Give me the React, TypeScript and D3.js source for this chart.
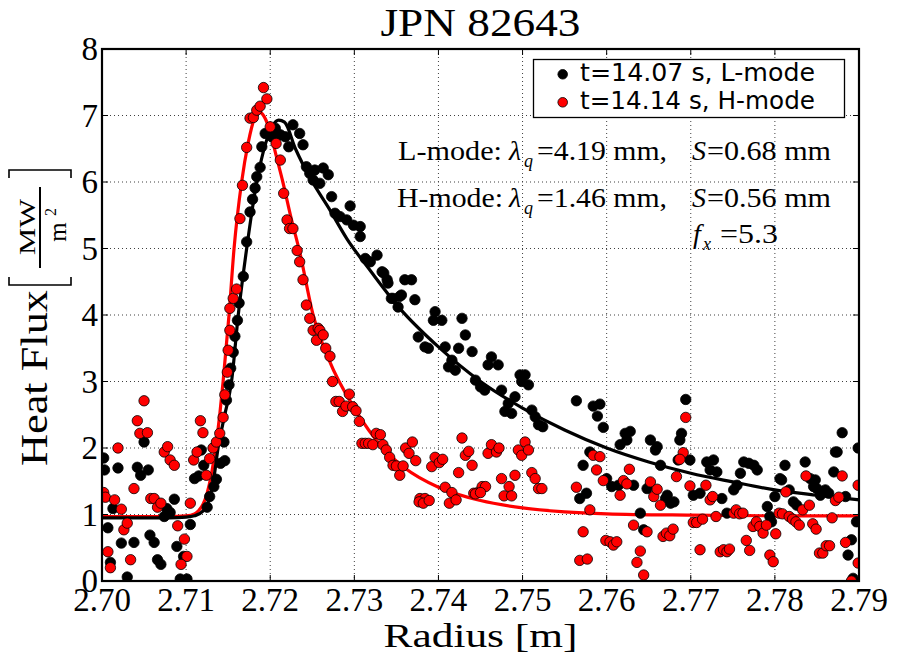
import React from 'react';
import * as d3 from 'd3';

const xTickValues = [2.70, 2.71, 2.72, 2.73, 2.74, 2.75, 2.76, 2.77, 2.78, 2.79];
const yTickValues = [0, 1, 2, 3, 4, 5, 6, 7, 8];

const legendLabels = ['t=14.07 s, L-mode', 't=14.14 s, H-mode'];

// L-mode measured heat flux [radius m, MW/m^2]
const lModePoints: [number, number][] = [
[2.7002,1.85],[2.7003,1.67],[2.7019,1.70],[2.7007,0.80],[2.7013,1.09],[2.7023,0.57],[2.7010,0.28],[2.7030,0.06],[2.7038,0.58],[2.7042,1.71],[2.7046,1.59],[2.7050,2.09],[2.7055,1.67],[2.7057,0.69],[2.7062,0.58],[2.7066,0.32],[2.7070,0.25],[2.7074,0.97],[2.7077,1.09],[2.7081,1.03],[2.7086,1.23],[2.7089,0.52],[2.7093,0.03],[2.7101,0.03],[2.7105,0.85],[2.7097,0.37],[2.7110,1.54],[2.7115,1.58],[2.7118,1.97],[2.7121,1.74],[2.7125,1.11],[2.7128,1.27],[2.7133,1.42],[2.7136,1.53],[2.7141,1.77],[2.7146,1.81],[2.7145,2.09],[2.7148,2.72],[2.7151,2.95],[2.7153,3.20],[2.7156,3.44],[2.7158,3.68],[2.7161,3.92],[2.7163,4.18],[2.7168,4.58],[2.7172,5.10],[2.7176,5.55],[2.7179,5.74],[2.7182,5.91],[2.7184,6.08],[2.7188,6.22],[2.7190,6.53],[2.7194,6.73],[2.7202,6.68],[2.7206,6.81],[2.7212,6.71],[2.7218,6.68],[2.7222,6.53],[2.7227,6.86],[2.7235,6.73],[2.7239,6.56],[2.7243,6.23],[2.7247,6.13],[2.7253,6.18],[2.7263,6.21],[2.7251,6.03],[2.7259,5.98],[2.7269,6.11],[2.7273,5.78],[2.7277,5.53],[2.7295,5.64],[2.7283,5.48],[2.7291,5.43],[2.7299,5.35],[2.7307,5.18],[2.7313,4.85],[2.7319,4.80],[2.7327,4.90],[2.7333,4.65],[2.7339,4.53],[2.7346,4.25],[2.7352,4.12],[2.7307,5.33],[2.7360,4.53],[2.7368,4.53],[2.7356,4.30],[2.7335,4.63],[2.7340,4.48],[2.7344,4.25],[2.7354,4.28],[2.7372,4.23],[2.7396,4.05],[2.7394,3.92],[2.7404,3.92],[2.7428,3.95],[2.7376,3.67],[2.7384,3.52],[2.7388,3.50],[2.7408,3.52],[2.7424,3.50],[2.7432,3.70],[2.7440,3.45],[2.7416,3.32],[2.7412,3.22],[2.7420,3.17],[2.7463,3.37],[2.7459,3.25],[2.7471,3.25],[2.7444,3.02],[2.7450,2.92],[2.7455,2.87],[2.7475,2.87],[2.7497,3.10],[2.7503,3.10],[2.7499,3.00],[2.7507,2.95],[2.7491,2.77],[2.7483,2.67],[2.7479,2.55],[2.7487,2.52],[2.7511,2.57],[2.7515,2.47],[2.7519,2.35],[2.7524,2.32],[2.7564,2.71],[2.7584,2.63],[2.7592,2.66],[2.7589,2.48],[2.7596,2.31],[2.7572,1.74],[2.7580,1.94],[2.7568,1.24],[2.7576,1.32],[2.7600,1.54],[2.7606,1.42],[2.7614,1.44],[2.7616,2.05],[2.7622,2.22],[2.7628,2.25],[2.7624,2.12],[2.7632,1.44],[2.7640,1.02],[2.7644,0.77],[2.7652,2.12],[2.7658,1.97],[2.7660,2.02],[2.7664,1.74],[2.7648,1.39],[2.7670,1.24],[2.7676,1.17],[2.7680,1.19],[2.7672,1.29],[2.7687,2.12],[2.7689,2.22],[2.7694,2.73],[2.7685,1.82],[2.7699,1.82],[2.7703,1.29],[2.7711,1.32],[2.7719,1.79],[2.7727,1.82],[2.7723,1.67],[2.7731,1.64],[2.7737,1.24],[2.7743,1.02],[2.7751,1.37],[2.7755,1.44],[2.7759,1.62],[2.7763,1.79],[2.7769,1.77],[2.7775,1.74],[2.7779,1.67],[2.7791,1.12],[2.7794,0.97],[2.7796,0.89],[2.7800,1.27],[2.7806,1.54],[2.7808,1.52],[2.7812,1.74],[2.7817,1.37],[2.7822,1.19],[2.7826,1.14],[2.7836,1.79],[2.7842,1.54],[2.7848,1.52],[2.7846,1.42],[2.7850,1.39],[2.7854,1.29],[2.7860,1.37],[2.7864,1.32],[2.7870,1.64],[2.7872,1.94],[2.7874,1.94],[2.7880,2.23],[2.7884,1.27],[2.7887,0.39],[2.7891,0.62],[2.7897,0.89],[2.7899,2.00],[2.7893,0.04]
];

// H-mode measured heat flux [radius m, MW/m^2]
const hModePoints: [number, number][] = [
[2.7002,1.33],[2.7004,1.26],[2.7015,1.22],[2.7023,1.08],[2.7019,2.00],[2.7007,0.44],[2.7010,0.20],[2.7026,0.77],[2.7030,0.87],[2.7034,0.32],[2.7038,1.39],[2.7042,2.41],[2.7045,2.22],[2.7050,2.71],[2.7054,2.23],[2.7058,1.24],[2.7062,1.24],[2.7066,1.11],[2.7070,1.17],[2.7074,1.94],[2.7078,2.02],[2.7081,1.82],[2.7086,1.74],[2.7090,0.83],[2.7098,0.63],[2.7101,0.37],[2.7094,0.25],[2.7105,1.17],[2.7109,1.82],[2.7113,1.94],[2.7117,2.41],[2.7120,2.23],[2.7124,1.59],[2.7128,1.84],[2.7132,2.00],[2.7136,2.09],[2.7140,2.22],[2.7144,2.46],[2.7146,2.80],[2.7149,3.14],[2.7150,3.47],[2.7152,3.77],[2.7152,4.10],[2.7156,4.25],[2.7160,4.39],[2.7164,5.45],[2.7167,5.95],[2.7172,6.52],[2.7176,6.96],[2.7180,6.97],[2.7184,7.08],[2.7188,7.14],[2.7192,7.42],[2.7196,7.25],[2.7200,6.83],[2.7207,6.58],[2.7212,6.33],[2.7216,5.83],[2.7220,5.43],[2.7223,5.30],[2.7227,5.30],[2.7232,4.97],[2.7235,4.80],[2.7239,4.53],[2.7243,4.15],[2.7247,3.95],[2.7251,3.77],[2.7257,3.80],[2.7255,3.62],[2.7259,3.77],[2.7263,3.70],[2.7266,3.50],[2.7271,3.38],[2.7274,3.00],[2.7278,2.70],[2.7282,2.70],[2.7286,2.55],[2.7290,2.63],[2.7294,2.81],[2.7298,2.62],[2.7302,2.56],[2.7306,2.40],[2.7309,2.07],[2.7313,2.07],[2.7317,2.07],[2.7322,2.05],[2.7326,2.22],[2.7331,2.20],[2.7334,2.05],[2.7338,1.97],[2.7342,1.86],[2.7346,1.74],[2.7350,1.73],[2.7354,1.59],[2.7358,1.73],[2.7361,2.00],[2.7365,1.92],[2.7369,2.09],[2.7373,1.81],[2.7378,1.24],[2.7384,1.24],[2.7392,1.72],[2.7396,1.86],[2.7401,1.78],[2.7405,1.83],[2.7408,1.41],[2.7416,1.33],[2.7424,1.63],[2.7428,2.15],[2.7432,1.89],[2.7436,1.95],[2.7440,1.74],[2.7442,1.32],[2.7448,1.34],[2.7452,1.42],[2.7456,1.42],[2.7459,1.92],[2.7463,2.05],[2.7469,1.94],[2.7472,2.00],[2.7475,1.54],[2.7478,1.28],[2.7484,1.42],[2.7487,1.28],[2.7491,1.59],[2.7495,1.97],[2.7499,1.89],[2.7503,2.09],[2.7507,1.97],[2.7511,1.63],[2.7515,1.54],[2.7519,1.39],[2.7523,1.39],[2.7377,1.19],[2.7382,1.17],[2.7389,1.21],[2.7413,1.17],[2.7421,1.22],[2.7444,1.31],[2.7450,1.33],[2.7564,1.41],[2.7584,1.89],[2.7592,1.87],[2.7588,1.67],[2.7596,1.51],[2.7580,1.07],[2.7572,0.74],[2.7568,0.31],[2.7577,0.33],[2.7599,0.61],[2.7604,0.59],[2.7608,0.54],[2.7612,0.59],[2.7616,1.29],[2.7620,1.51],[2.7624,1.46],[2.7627,1.68],[2.7632,0.84],[2.7636,0.28],[2.7640,0.45],[2.7644,0.09],[2.7648,0.74],[2.7652,1.49],[2.7656,1.27],[2.7660,1.38],[2.7664,1.14],[2.7667,0.67],[2.7671,0.72],[2.7675,0.68],[2.7679,0.78],[2.7683,1.57],[2.7691,1.93],[2.7687,1.83],[2.7694,2.46],[2.7699,1.43],[2.7703,0.88],[2.7707,0.88],[2.7711,0.47],[2.7714,0.93],[2.7718,1.44],[2.7723,1.22],[2.7726,1.27],[2.7730,0.97],[2.7735,0.44],[2.7739,0.47],[2.7743,0.44],[2.7746,0.48],[2.7751,1.02],[2.7754,1.07],[2.7758,1.01],[2.7762,1.02],[2.7766,0.61],[2.7770,0.46],[2.7774,0.82],[2.7778,0.89],[2.7782,0.82],[2.7786,0.72],[2.7790,0.84],[2.7794,0.39],[2.7798,0.29],[2.7801,0.71],[2.7805,1.02],[2.7809,1.01],[2.7813,1.34],[2.7817,0.97],[2.7821,0.93],[2.7825,0.89],[2.7829,0.84],[2.7833,1.07],[2.7837,1.58],[2.7841,1.14],[2.7845,0.86],[2.7849,0.78],[2.7853,0.42],[2.7857,0.42],[2.7861,0.53],[2.7865,0.53],[2.7868,0.95],[2.7872,1.21],[2.7876,1.26],[2.7880,1.58],[2.7884,0.58],[2.7891,0.00],[2.7899,0.27],[2.7899,1.44]
];

// Fitted profiles [radius m, MW/m^2]
const lModeFit: [number, number][] = [
[2.700,0.95],[2.708,0.95],[2.710,0.96],[2.711,0.98],[2.712,1.05],[2.7128,1.25],[2.7133,1.55],[2.7138,2.0],[2.7146,2.5],[2.7154,3.0],[2.7162,4.0],[2.7172,5.0],[2.7184,6.0],[2.7195,6.6],[2.7203,6.85],[2.7210,6.93],[2.7217,6.9],[2.7230,6.5],[2.7247,6.07],[2.7270,5.6],[2.7291,5.15],[2.7320,4.65],[2.7354,4.1],[2.7400,3.52],[2.7450,3.0],[2.7500,2.6],[2.7550,2.27],[2.7600,2.0],[2.7650,1.79],[2.7700,1.62],[2.7750,1.49],[2.7800,1.37],[2.7850,1.29],[2.7900,1.22]
];
const hModeFit: [number, number][] = [
[2.700,0.97],[2.708,0.97],[2.710,0.98],[2.711,1.01],[2.7115,1.06],[2.712,1.15],[2.7125,1.32],[2.713,1.6],[2.7135,2.0],[2.714,2.5],[2.7144,3.0],[2.7151,4.0],[2.7157,5.0],[2.7166,6.0],[2.7174,6.6],[2.7181,6.95],[2.7187,7.05],[2.7193,6.98],[2.7200,6.75],[2.7207,6.4],[2.7215,6.0],[2.7225,5.45],[2.7235,4.95],[2.7251,4.0],[2.7270,3.32],[2.7300,2.6],[2.7334,2.0],[2.7360,1.7],[2.7400,1.41],[2.7450,1.21],[2.7500,1.10],[2.7550,1.04],[2.7600,1.01],[2.7700,0.99],[2.7800,0.98],[2.7900,0.98]
];

const W = 897;
const H = 655;
const PL = 102, PR = 859, PT = 49, PB = 581;
const SERIF = '"Liberation Serif", "Times New Roman", serif';
const SANS = '"DejaVu Sans", sans-serif';

export default function App() {
  const x = d3.scaleLinear().domain([2.70, 2.79]).range([PL, PR]);
  const y = d3.scaleLinear().domain([0, 8]).range([PB, PT]);
  const line = d3.line<[number, number]>().x(d => x(d[0])).y(d => y(d[1])).curve(d3.curveMonotoneX);
  const colors = ['#000000', '#ff0000'];
  const R = 5.2;

  return (
    <svg width={W} height={H} style={{ position: 'absolute', left: 0, top: 0, background: '#fff' }}>
      <defs>
        <clipPath id="plotClip">
          <rect x={PL} y={PT} width={PR - PL} height={PB - PT} />
        </clipPath>
      </defs>
      <rect x={0} y={0} width={W} height={H} fill="#fff" />
      {/* grid */}
      <g stroke="#000" strokeWidth={1} strokeDasharray="1,3" opacity={0.75}>
        {xTickValues.map((t, i) => (
          <line key={'gx' + i} x1={x(t)} x2={x(t)} y1={PT} y2={PB} />
        ))}
        {yTickValues.map((t, i) => (
          <line key={'gy' + i} x1={PL} x2={PR} y1={y(t)} y2={y(t)} />
        ))}
      </g>
      <g clipPath="url(#plotClip)">
        <path d={line(hModeFit) || ''} fill="none" stroke={colors[1]} strokeWidth={3.2} />
        <path d={line(lModeFit) || ''} fill="none" stroke={colors[0]} strokeWidth={3.2} />
        {lModePoints.map((p, i) => (
          <circle key={'l' + i} cx={x(p[0])} cy={y(p[1])} r={R} fill={colors[0]} stroke="#000" strokeWidth={0.8} />
        ))}
        {hModePoints.map((p, i) => (
          <circle key={'h' + i} cx={x(p[0])} cy={y(p[1])} r={R} fill={colors[1]} stroke="#000" strokeWidth={0.8} />
        ))}
      </g>
      {/* ticks */}
      <g stroke="#000" strokeWidth={1}>
        {xTickValues.map((t, i) => (
          <g key={'tx' + i}>
            <line x1={x(t)} x2={x(t)} y1={PB} y2={PB - 6} />
            <line x1={x(t)} x2={x(t)} y1={PT} y2={PT + 6} />
          </g>
        ))}
        {yTickValues.map((t, i) => (
          <g key={'ty' + i}>
            <line x1={PL} x2={PL + 6} y1={y(t)} y2={y(t)} />
            <line x1={PR} x2={PR - 6} y1={y(t)} y2={y(t)} />
          </g>
        ))}
      </g>
      <rect x={PL} y={PT} width={PR - PL} height={PB - PT} fill="none" stroke="#000" strokeWidth={2.2} />
      {/* tick labels */}
      <g fontFamily={SERIF} fill="#000">
        {xTickValues.map((t, i) => (
          <text key={'lx' + i} x={x(t)} y={611} textAnchor="middle" fontSize={33}>{t.toFixed(2)}</text>
        ))}
        {yTickValues.map((t, i) => (
          <text key={'ly' + i} x={98} y={y(t) + 11} textAnchor="end" fontSize={33}>{String(t)}</text>
        ))}
      </g>
      {/* title and axis labels */}
      <text x={480.5} y={36} textAnchor="middle" fontFamily={SERIF} fontSize={40} textLength={200} lengthAdjust="spacingAndGlyphs">JPN 82643</text>
      <text x={480.5} y={647} textAnchor="middle" fontFamily={SERIF} fontSize={34} textLength={194} lengthAdjust="spacingAndGlyphs">Radius [m]</text>
      <g transform="rotate(-90)" fontFamily={SERIF} fill="#000">
        <text x={-378} y={47} textAnchor="middle" fontSize={38} textLength={176} lengthAdjust="spacingAndGlyphs">Heat Flux</text>
        <path d="M -277 9 L -285 9 L -285 71 L -277 71" fill="none" stroke="#000" strokeWidth={1.6} />
        <path d="M -178 9 L -170 9 L -170 71 L -178 71" fill="none" stroke="#000" strokeWidth={1.6} />
        <line x1={-268} x2={-187} y1={40} y2={40} stroke="#000" strokeWidth={2} />
        <text x={-227} y={35} textAnchor="middle" fontSize={24} textLength={56} lengthAdjust="spacingAndGlyphs">MW</text>
        <text x={-232} y={66} textAnchor="middle" fontSize={25}>m</text>
        <text x={-212} y={56} textAnchor="middle" fontSize={16}>2</text>
      </g>
      {/* legend */}
      <rect x={533.5} y={59.5} width={311} height={58} fill="#fff" stroke="#000" strokeWidth={1.3} />
      {legendLabels.map((lab, i) => (
        <g key={'lg' + i}>
          <circle cx={562.7} cy={74.3 + i * 28} r={4.8} fill={colors[i]} stroke="#000" strokeWidth={0.8} />
          <text x={580} y={81 + i * 28} fontFamily={SANS} fontSize={25} textLength={235} lengthAdjust="spacingAndGlyphs">{lab}</text>
        </g>
      ))}
      {/* annotations */}
      <g fontFamily={SERIF} fontSize={28} fill="#000">
        <text x={398} y={160} textLength={104} lengthAdjust="spacingAndGlyphs">L-mode:</text>
        <text x={509} y={160} fontStyle="italic">λ</text>
        <text x={524} y={167} fontStyle="italic" fontSize={18}>q</text>
        <text x={537} y={160} textLength={130} lengthAdjust="spacingAndGlyphs">=4.19 mm,</text>
        <text x={692} y={160} fontStyle="italic">S</text>
        <text x={707} y={160} textLength={124} lengthAdjust="spacingAndGlyphs">=0.68 mm</text>

        <text x={397} y={207} textLength={106} lengthAdjust="spacingAndGlyphs">H-mode:</text>
        <text x={509} y={207} fontStyle="italic">λ</text>
        <text x={524} y={214} fontStyle="italic" fontSize={18}>q</text>
        <text x={537} y={207} textLength={130} lengthAdjust="spacingAndGlyphs">=1.46 mm,</text>
        <text x={692} y={207} fontStyle="italic">S</text>
        <text x={707} y={207} textLength={124} lengthAdjust="spacingAndGlyphs">=0.56 mm</text>

        <text x={693} y={243} fontStyle="italic">f</text>
        <text x={703} y={250} fontStyle="italic" fontSize={18}>x</text>
        <text x={720} y={243} textLength={58} lengthAdjust="spacingAndGlyphs">=5.3</text>
      </g>
    </svg>
  );
}
